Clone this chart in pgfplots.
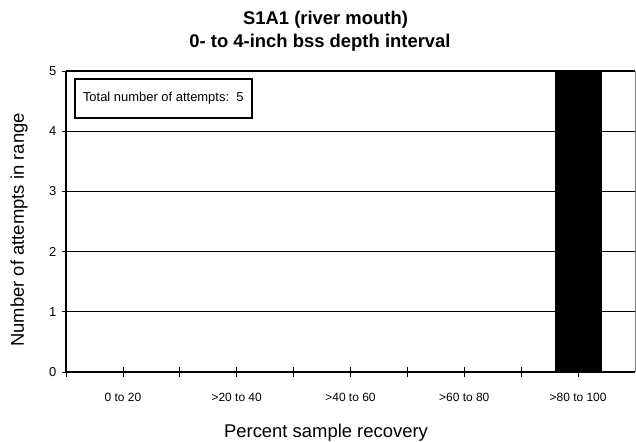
\documentclass[border=0pt]{standalone}
\usepackage{fontspec}
\setmainfont{Liberation Sans}
\usepackage{pgfplots}
\pgfplotsset{compat=1.18}
\begin{document}
\begin{tikzpicture}
\path[use as bounding box] (-66bp,-70bp) rectangle (570bp,372bp);
\begin{axis}[
  at={(0,0)}, anchor=south west,
  scale only axis,
  width=569bp, height=301bp,
  xmin=-0.5, xmax=4.5, ymin=0, ymax=5,
  ybar, bar width=46bp,
  axis line style={draw=none},
  tick pos=left,
  xtick={-0.5,0.5,1.5,2.5,3.5},
  xticklabels={},
  xtick style={black, line width=0.8bp, /pgfplots/major tick length=10bp},
  x tick style={/pgfplots/tick align=center},
  extra x ticks={0,1,2,3,4},
  extra x tick labels={0 to 20,>20 to 40,>40 to 60,>60 to 80,>80 to 100},
  extra x tick style={major tick length=0pt, grid=none,
     tick label style={font=\fontsize{12}{14}\selectfont, anchor=base, yshift=-29bp}},
  ytick={0,1,2,3,4,5},
  y tick style={black, line width=0.8bp},
  ytick align=outside,
  ymajorgrids,
  grid style={black, line width=0.8bp},
  yticklabel style={font=\fontsize{13}{15}\selectfont, anchor=east, xshift=-2bp},
  /pgf/number format/assume math mode=true,
  clip=false,
]
\addplot[fill=black, draw=black] coordinates {(0,0) (1,0) (2,0) (3,0) (4,5)};
\end{axis}
\draw[black, line width=2.5bp] (0,301bp) -- (0,0) -- (569bp,0);
\draw[black, line width=2bp] (0,301bp) -- (569bp,301bp);
\draw[gray, line width=0.8bp] (569bp,0) -- (569bp,301bp);
\node[draw=black, fill=white, line width=2bp, anchor=north west, inner xsep=8bp, minimum height=39bp,
  font=\fontsize{13}{15}\selectfont] at (8bp,294bp) {Total number of attempts:\ \ 5};
\node[font=\bfseries\fontsize{18.5}{22}\selectfont, anchor=base] at (259.5bp,347bp) {S1A1 (river mouth)};
\node[font=\bfseries\fontsize{18.5}{22}\selectfont, anchor=base] at (254bp,324bp) {0- to 4-inch bss depth interval};
\node[font=\fontsize{18.5}{22}\selectfont, anchor=base] at (260bp,-65bp) {Percent sample recovery};
\node[font=\fontsize{18.5}{22}\selectfont, anchor=base, rotate=90] at (-42bp,142bp) {Number of attempts in range};
\end{tikzpicture}
\end{document}
